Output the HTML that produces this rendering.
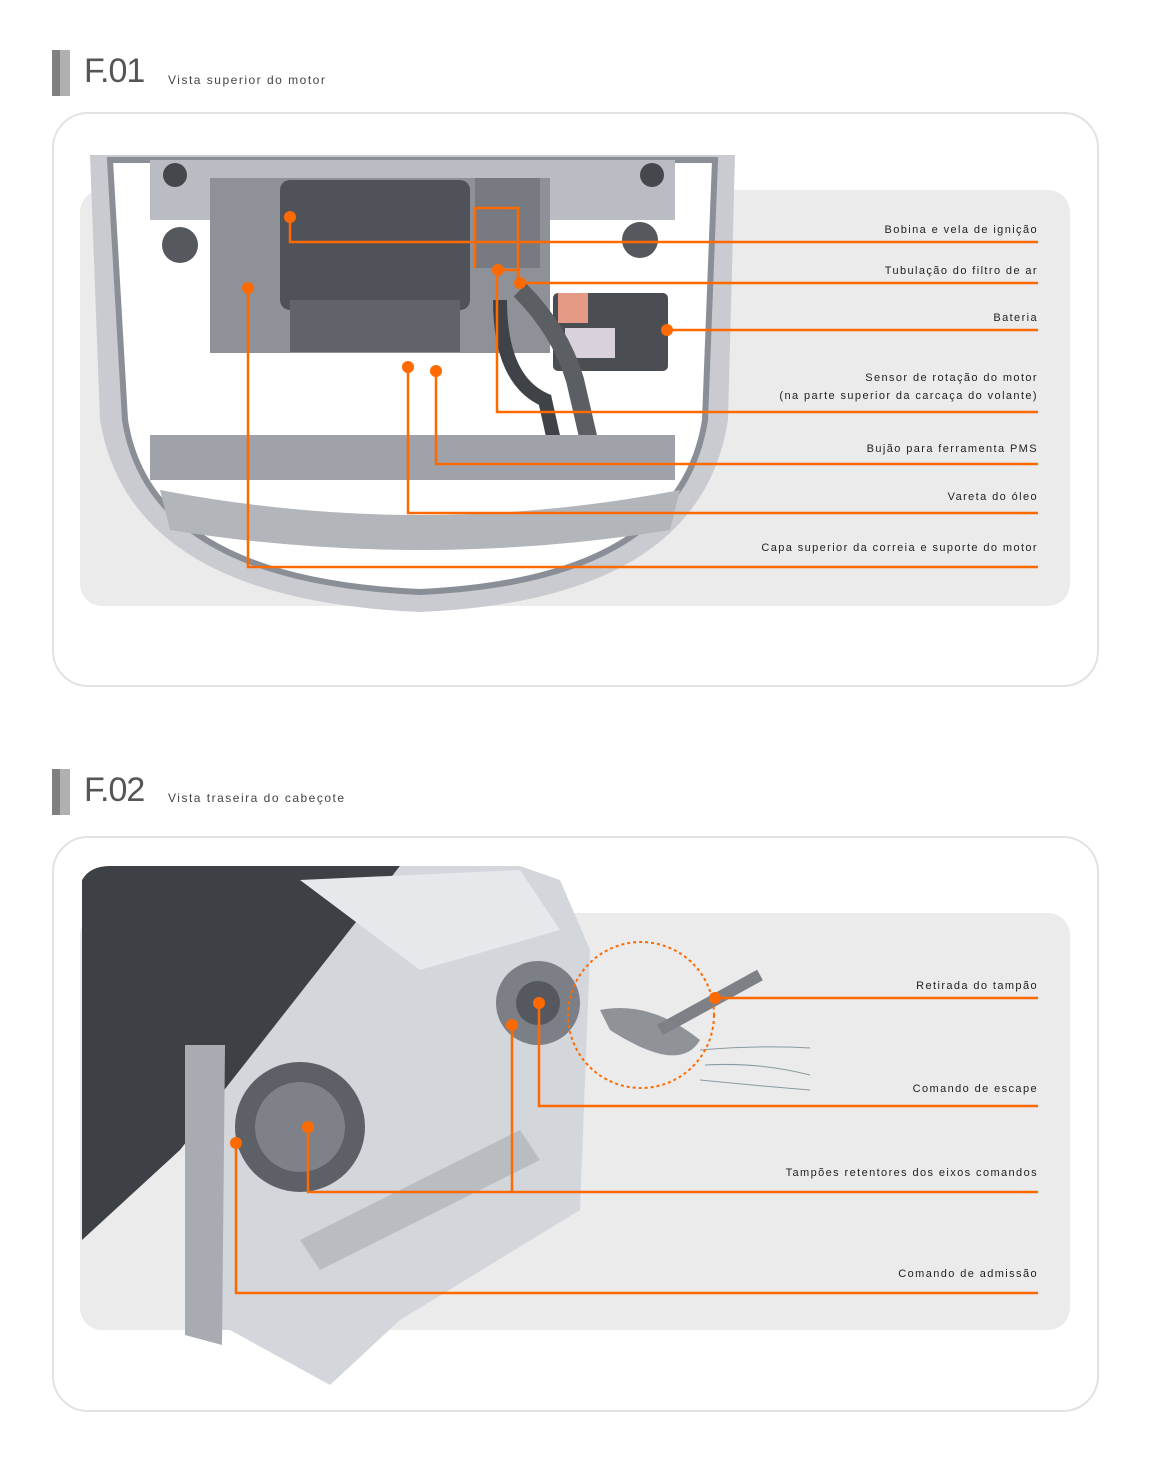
<!DOCTYPE html>
<html><head><meta charset="utf-8"><style>
body{margin:0;background:#fff;width:1162px;height:1462px;position:relative;overflow:hidden;font-family:"Liberation Sans",sans-serif}
.bar{position:absolute;width:18px;height:46px;background:linear-gradient(90deg,#808080 0 8px,#b0b0b0 8px)}
.fig{position:absolute;font-size:34px;color:#555;letter-spacing:-1px}
.sub{position:absolute;font-size:12px;color:#444;letter-spacing:1.5px}
.panel{position:absolute;left:52px;width:1043px;border:2px solid #e2e2e2;border-radius:36px;background:#fff}
.inner{position:absolute;left:80px;width:990px;background:#ebebeb;border-radius:22px}
.lab{position:absolute;right:124px;font-size:11px;color:#222;letter-spacing:1.4px;text-align:right;white-space:nowrap}
svg{position:absolute;left:0;top:0}
</style></head><body>
<div class="bar" style="left:52px;top:50px"></div>
<div class="fig" style="left:84px;top:52px">F.01</div>
<div class="sub" style="left:168px;top:73px">Vista superior do motor</div>
<div class="panel" style="top:112px;height:571px"></div>
<div class="inner" style="top:190px;height:416px"></div>

<div class="bar" style="left:52px;top:769px"></div>
<div class="fig" style="left:84px;top:771px">F.02</div>
<div class="sub" style="left:168px;top:791px">Vista traseira do cabeçote</div>
<div class="panel" style="top:836px;height:572px"></div>
<div class="inner" style="top:913px;height:417px"></div>

<svg width="1162" height="1462">
<!-- engine 1 -->
<path d="M90 155 L735 155 L728 420 Q700 600 420 612 Q130 600 100 420 Z" fill="#c9cbd0"/>
<path d="M110 160 L715 160 L705 420 Q680 580 420 592 Q150 580 125 420 Z" fill="#fff" stroke="#8a8e96" stroke-width="6"/>
<rect x="150" y="160" width="525" height="60" fill="#b9bcc2"/>
<rect x="210" y="178" width="340" height="175" fill="#8e9198"/>
<rect x="280" y="180" width="190" height="130" rx="10" fill="#4f5359"/>
<rect x="290" y="300" width="170" height="52" fill="#60646a"/>
<rect x="475" y="178" width="65" height="90" fill="#777a80"/>
<rect x="553" y="293" width="115" height="78" rx="5" fill="#4a4d52"/>
<rect x="558" y="293" width="30" height="30" fill="#e49a85"/>
<rect x="565" y="328" width="50" height="30" fill="#d9d2dd"/>
<path d="M520 290 Q560 330 575 380 L590 445" stroke="#5b5e63" stroke-width="18" fill="none"/>
<path d="M500 300 Q500 380 545 400 L555 445" stroke="#3f4247" stroke-width="14" fill="none"/>
<rect x="150" y="435" width="525" height="45" fill="#9fa3a9"/>
<path d="M160 490 Q420 540 680 490 L670 530 Q420 570 170 530 Z" fill="#b2b5ba"/>
<circle cx="180" cy="245" r="18" fill="#55585d"/><circle cx="640" cy="240" r="18" fill="#55585d"/>
<circle cx="175" cy="175" r="12" fill="#44474c"/><circle cx="652" cy="175" r="12" fill="#44474c"/>
<!-- engine 2 -->
<path d="M82 880 Q90 866 110 866 L400 866 L180 1150 L82 1240 Z" fill="#3d4045"/>
<path d="M400 866 L520 866 L560 880 L590 950 L580 1210 L400 1320 L330 1385 L230 1330 L185 1330 L185 1140 Z" fill="#d3d6da"/>
<path d="M300 880 L520 870 L560 930 L420 970 Z" fill="#e6e8eb"/>
<path d="M185 1045 L225 1045 L222 1345 L185 1335 Z" fill="#a8acb2"/>
<circle cx="300" cy="1127" r="65" fill="#5d6167"/><circle cx="300" cy="1127" r="45" fill="#7e8288"/>
<circle cx="538" cy="1003" r="42" fill="#7c8086"/><circle cx="538" cy="1003" r="22" fill="#55595f"/>
<path d="M300 1240 L520 1130 L540 1160 L320 1270 Z" fill="#b9bcc1"/>
<path d="M600 1010 Q650 1000 700 1040 Q680 1075 610 1030 Z" fill="#8f9398"/>
<path d="M660 1030 L760 975" stroke="#7d8186" stroke-width="12"/>
<path d="M700 1050 Q760 1045 810 1048 M705 1065 Q760 1062 810 1075 M700 1080 Q750 1085 810 1090" stroke="#8a9aa0" fill="none"/>
<circle cx="641" cy="1015" r="73" fill="none" stroke="#ff6a00" stroke-width="2" stroke-dasharray="3 3"/>
<g stroke="#ff6a00" stroke-width="2.5" fill="none">
<path d="M290 217V242H1038"/>
<path d="M475 268V208H518V283H1038"/>
<path d="M498 270H520"/>
<path d="M667 330H1038"/>
<path d="M497 270V412H1038"/>
<path d="M436 371V464H1038"/>
<path d="M408 367V513H1038"/>
<path d="M248 288V567H1038"/>
<path d="M715 998H1038"/>
<path d="M539 1003V1106H1038"/>
<path d="M308 1127V1192H1038"/>
<path d="M512 1025V1192"/>
<path d="M236 1143V1293H1038"/>
</g>
<g fill="#ff6a00">
<circle cx="290" cy="217" r="6"/><circle cx="498" cy="270" r="6"/><circle cx="520" cy="283" r="6"/>
<circle cx="667" cy="330" r="6"/><circle cx="436" cy="371" r="6"/><circle cx="408" cy="367" r="6"/>
<circle cx="248" cy="288" r="6"/><circle cx="715" cy="998" r="6"/><circle cx="539" cy="1003" r="6"/>
<circle cx="308" cy="1127" r="6"/><circle cx="512" cy="1025" r="6"/><circle cx="236" cy="1143" r="6"/>
</g>
</svg>
<div class="lab" style="top:224px">Bobina e vela de ignição</div>
<div class="lab" style="top:265px">Tubulação do filtro de ar</div>
<div class="lab" style="top:312px">Bateria</div>
<div class="lab" style="top:372px">Sensor de rotação do motor</div>
<div class="lab" style="top:390px">(na parte superior da carcaça do volante)</div>
<div class="lab" style="top:443px">Bujão para ferramenta PMS</div>
<div class="lab" style="top:491px">Vareta do óleo</div>
<div class="lab" style="top:542px">Capa superior da correia e suporte do motor</div>
<div class="lab" style="top:980px">Retirada do tampão</div>
<div class="lab" style="top:1083px">Comando de escape</div>
<div class="lab" style="top:1167px">Tampões retentores dos eixos comandos</div>
<div class="lab" style="top:1268px">Comando de admissão</div>
</body></html>
